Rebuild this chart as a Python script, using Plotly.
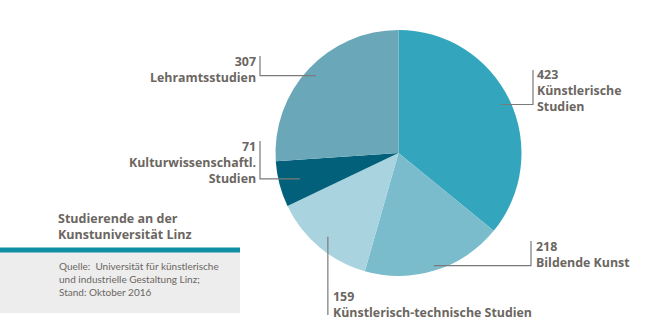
import math
import plotly.graph_objects as go

# Studierende nach Studienrichtung (Stand Oktober 2016)
labels = ["Künstlerische Studien", "Bildende Kunst", "Künstlerisch-technische Studien",
          "Kulturwissenschaftl. Studien", "Lehramtsstudien"]
values = [423, 218, 159, 71, 307]
colors = ["#33a5bc", "#7bbccc", "#a9d3df", "#02607a", "#6aa7b8"]

W, H = 645, 332
CX, CY, R = 398.5, 153.0, 123.0  # pie centre and radius in pixels
TEXT = "#6b6661"
LINE = "#7a7a7a"
FONT_B = "Open Sans"
FONT_R = "Lato"


def px(x):
    return x / W


def py(y):
    return 1 - y / H


fig = go.Figure(go.Pie(
    labels=labels, values=values, sort=False, direction="clockwise", rotation=0,
    marker=dict(colors=colors, line=dict(width=0)), textinfo="none",
    hoverinfo="label+value", showlegend=False,
    domain=dict(x=[px(CX - R), px(CX + R)], y=[py(CY + R), py(CY - R)]),
))

# slice mid-angles (degrees clockwise from 12 o'clock)
total = sum(values)
mids, acc = [], 0
for v in values:
    mids.append((acc + v / 2) / total * 360)
    acc += v


def anchor(i, frac):
    a = math.radians(mids[i])
    return CX + frac * R * math.sin(a), CY - frac * R * math.cos(a)


shapes = []


def leader(points):
    d = "M " + " L ".join(f"{px(x)},{py(y)}" for x, y in points)
    shapes.append(dict(type="path", path=d, xref="paper", yref="paper",
                       line=dict(color=LINE, width=1.2)))


# leader lines: from inside the slice out to the label
ax, ay = anchor(0, 0.92)
leader([(ax, ay), (533, ay), (533, 70)])
ax, ay = anchor(1, 0.96)
leader([(ax, ay), (531, ay), (531, 241)])
ax, ay = anchor(2, 0.89)
leader([(ax, ay), (ax, 315)])
ax, ay = anchor(3, 0.83)
leader([(ax, ay), (260, ay), (260, 141)])
ax, ay = anchor(4, 0.92)
leader([(ax, ay), (260, ay), (260, 56)])

annotations = []


def label(i, lines, x, y, xanchor):
    """Value on the first line, category name below it."""
    text = "<br>".join([str(values[i])] + lines)
    annotations.append(dict(
        text=f"<b>{text}</b>", x=px(x), y=py(y), xref="paper", yref="paper",
        xanchor=xanchor, yanchor="middle", align=xanchor, showarrow=False,
        font=dict(family=FONT_B, size=12.4, color=TEXT)))


label(0, ["Künstlerische", "Studien"], 535, 90.5, "left")
label(1, ["Bildende Kunst"], 534, 254.5, "left")
label(2, ["Künstlerisch-technische Studien"], 331, 304, "left")
label(3, ["Kulturwissenschaftl.", "Studien"], 258, 162, "right")
label(4, ["Lehramtsstudien"], 258, 69.5, "right")

# info box bottom left
shapes.append(dict(type="rect", xref="paper", yref="paper", x0=0, x1=px(240),
                   y0=py(313), y1=py(251), fillcolor="#ededed", line=dict(width=0), layer="below"))
shapes.append(dict(type="rect", xref="paper", yref="paper", x0=0, x1=px(240),
                   y0=py(252.5), y1=py(247.5), fillcolor="#0f8fa3", line=dict(width=0)))

annotations.append(dict(
    text="<b>Studierende an der<br>Kunstuniversität Linz</b>", x=px(56), y=py(227),
    xref="paper", yref="paper", xanchor="left", yanchor="middle", align="left",
    showarrow=False, font=dict(family=FONT_B, size=12.5, color=TEXT)))
annotations.append(dict(
    text="Quelle:  Universität für künstlerische<br>und industrielle Gestaltung Linz;<br>Stand: Oktober 2016",
    x=px(57), y=py(279), xref="paper", yref="paper", xanchor="left", yanchor="middle",
    align="left", showarrow=False, font=dict(family=FONT_R, size=10, color=TEXT)))

fig.update_layout(
    width=W, height=H, margin=dict(l=0, r=0, t=0, b=0),
    paper_bgcolor="white", plot_bgcolor="white",
    shapes=shapes, annotations=annotations,
)

fig.write_html("out.html")
